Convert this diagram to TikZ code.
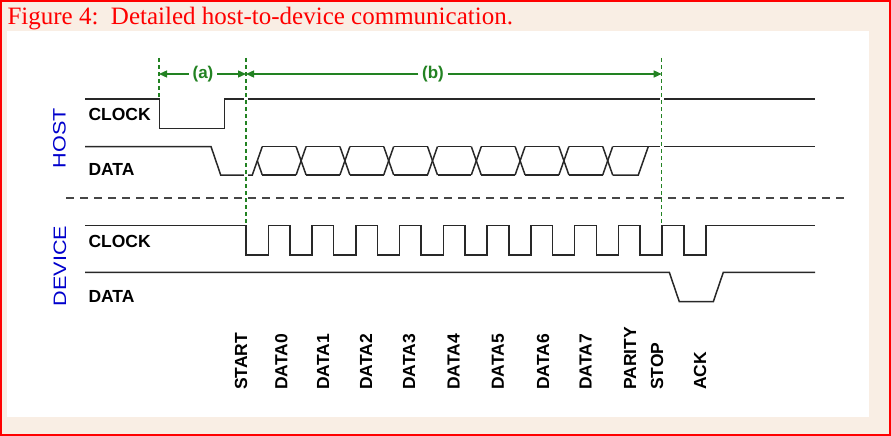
\documentclass[tikz,border=0pt]{standalone}
\usepackage{fontspec}
\setmainfont{Liberation Serif}
\setsansfont{Liberation Sans}
\usetikzlibrary{arrows.meta}
\definecolor{bgbeige}{RGB}{249,238,228}
\definecolor{titlered}{RGB}{255,0,0}
\definecolor{sigcol}{RGB}{40,40,40}
\definecolor{sepcol}{RGB}{70,70,70}
\definecolor{arrgreen}{RGB}{34,130,34}
\definecolor{hostblue}{RGB}{0,0,204}
\begin{document}
\begin{tikzpicture}[x=1pt,y=-1pt,
  sig/.style={draw=sigcol,line width=1.5pt,line join=miter},
  gap/.style={draw=white,line width=4pt},
  gdash/.style={draw=arrgreen,line width=1.4pt,dash pattern=on 4pt off 3pt},
  sepdash/.style={draw=sepcol,line width=1.8pt,dash pattern=on 8pt off 6pt},
  garrow/.style={draw=arrgreen,line width=1.3pt,-{Triangle[length=8pt,width=7pt]}},
  glab/.style={fill=white,text=arrgreen,inner sep=3.5pt,font=\sffamily\bfseries\fontsize{17}{20}\selectfont},
  slab/.style={inner sep=0pt,anchor=west,font=\sffamily\bfseries\fontsize{17.5}{20}\selectfont},
  blab/.style={inner sep=0pt,anchor=west,rotate=90,font=\sffamily\bfseries\fontsize{17.5}{20}\selectfont},
  sidelab/.style={inner sep=0pt,rotate=90,text=hostblue,font=\sffamily\fontsize{18}{20}\selectfont}]
\useasboundingbox (0,0) rectangle (891,436);
% background and frame
\fill[bgbeige] (0,0) rectangle (891,436);
\draw[titlered,line width=2pt] (1,1) rectangle (890,435);
\fill[white] (7.3,31) rectangle (869,417);
\node[anchor=base west,inner sep=0pt,text=titlered,font=\fontsize{25}{30}\selectfont] (title) at (7.3,25) {Figure 4:\ \ Detailed host-to-device communication.};
% side labels
\node[sidelab] (host) at (59.5,138.3) {\scalebox{1.2}[1]{HOST}};
\node[sidelab] (device) at (60,266) {\scalebox{1.2}[1]{DEVICE}};
% signal labels
\node[slab] (hclk) at (88.3,114.7) {CLOCK};
\node[slab] (hdat) at (88.3,169.5) {DATA};
\node[slab] (dclk) at (88.3,241.3) {CLOCK};
\node[slab] (ddat) at (88.3,296.3) {DATA};
% host clock
\draw[sig] (85,99) -- (159.3,99) -- (159.3,128.3) -- (224.3,128.3) -- (224.3,99) -- (815,99);
% host data
\draw[sig] (85,146.5) -- (211,146.5) -- (220.7,175) -- (252.3,175) -- (262.3,146.5);
\draw[sig] (257.3,160.7) -- (262.3,175);
\foreach \k in {1,...,8}{
  \pgfmathsetmacro{\c}{257.3+43.8*\k}
  \pgfmathsetmacro{\p}{257.3+43.8*(\k-1)}
  \draw[sig] (\p+5,146.5) -- (\c-5,146.5);
  \draw[sig] (\p+5,175) -- (\c-5,175);
  \draw[sig] (\c-5,146.5) -- (\c+5,175);
  \draw[sig] (\c-5,175) -- (\c+5,146.5);
}
\draw[sig] (612.7,146.5) -- (815,146.5);
\draw[sig] (612.7,175) -- (638.3,175) -- (648.3,146.5);
% device clock
\draw[sig] (85,225.7)
  \foreach \k in {0,...,10}{ -- ({246+43.8*\k},225.7) -- ({246+43.8*\k},255) -- ({268.3+43.75*\k},255) -- ({268.3+43.75*\k},225.7) }
  -- (815,225.7);
% device data
\draw[sig] (85,272.3) -- (669.3,272.3) -- (679.3,301.7) -- (713.3,301.7) -- (723.3,272.3) -- (815,272.3);
% separator
\draw[sepdash] (66,198) -- (848,198);
% gaps where green dashed lines cross host signals
\draw[gap] (246,92) -- (246,182);
\draw[gap] (661.7,92) -- (661.7,182);
% green dashed markers
\draw[gdash] (159,58) -- (159,99);
\draw[gdash] (246,58) -- (246,225.7);
\draw[gdash] (661.7,58) -- (661.7,225.7);
% green dimension arrows
\coordinate (va) at (159,74);
\coordinate (vb) at (246,74);
\coordinate (vc) at (661.7,74);
\node[glab] (la) at (203,74) {(a)};
\node[glab] (lb) at (433,74) {(b)};
\draw[garrow] (la) -- (va);
\draw[garrow] (la) -- (vb);
\draw[garrow] (lb) -- (vb);
\draw[garrow] (lb) -- (vc);
% bottom bit labels
\node[blab] (lstart) at (241,390) {START};
\node[blab] (ld0) at (281.4,390) {DATA0};
\node[blab] (ld1) at (323,390) {DATA1};
\node[blab] (ld2) at (366,390) {DATA2};
\node[blab] (ld3) at (409,390) {DATA3};
\node[blab] (ld4) at (453.6,390) {DATA4};
\node[blab] (ld5) at (498,390) {DATA5};
\node[blab] (ld6) at (543,390) {DATA6};
\node[blab] (ld7) at (585.7,390) {DATA7};
\node[blab] (lpar) at (630,390) {PARITY};
\node[blab] (lstop) at (657,390) {STOP};
\node[blab] (lack) at (700,390) {ACK};
\end{tikzpicture}
\end{document}
